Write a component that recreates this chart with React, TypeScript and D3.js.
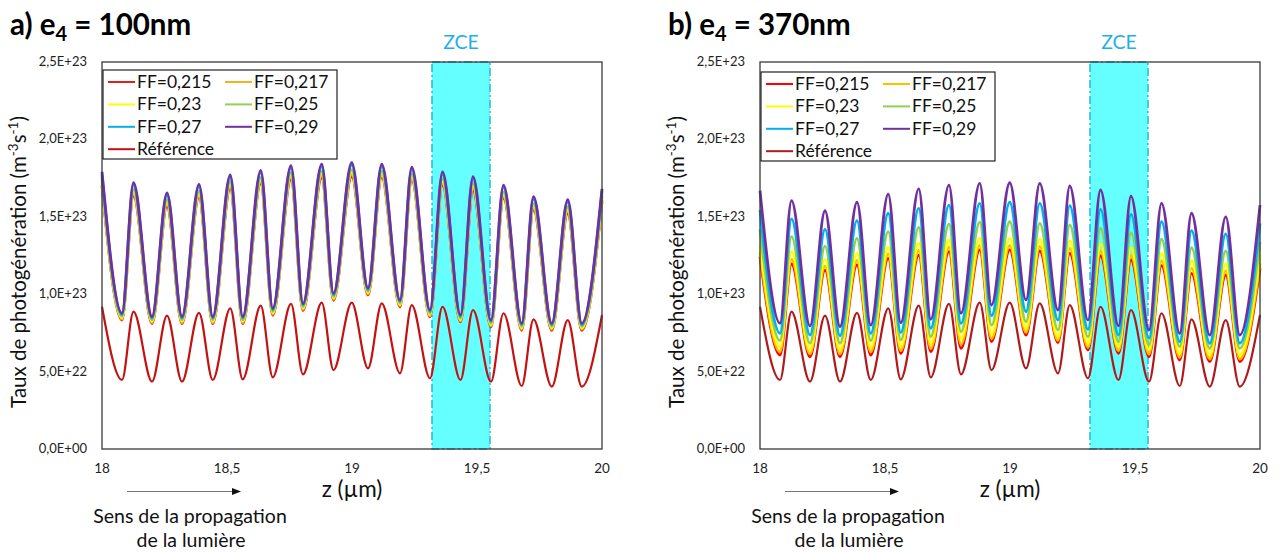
import React from "react";
import * as d3 from "d3";

// positions along z (µm) of the extrema shared by all curves
const Z = [18.0, 18.08, 18.126, 18.2, 18.26, 18.32, 18.388, 18.443, 18.513, 18.563, 18.635, 18.683, 18.756, 18.804, 18.879, 18.926, 18.999, 19.064, 19.119, 19.192, 19.239, 19.312, 19.362, 19.434, 19.484, 19.556, 19.606, 19.679, 19.726, 19.799, 19.863, 19.919, 20.0];

// values in units of 1E+23 m^-3 s^-1
const REF = [0.919, 0.446, 0.887, 0.435, 0.861, 0.435, 0.88, 0.446, 0.909, 0.45, 0.926, 0.463, 0.937, 0.482, 0.945, 0.51, 0.945, 0.521, 0.941, 0.489, 0.93, 0.457, 0.919, 0.446, 0.898, 0.435, 0.877, 0.407, 0.838, 0.403, 0.833, 0.403, 0.866];

// panel a) e4 = 100nm
const A_215 = [1.70, 0.833, 1.635, 0.81, 1.566, 0.81, 1.625, 0.81, 1.68, 0.81, 1.715, 0.864, 1.74, 0.895, 1.75, 0.961, 1.76, 0.995, 1.755, 0.918, 1.735, 0.853, 1.705, 0.821, 1.67, 0.788, 1.62, 0.767, 1.545, 0.767, 1.52, 0.767, 1.60];
const A_217 = [1.715, 0.839, 1.648, 0.817, 1.583, 0.817, 1.638, 0.817, 1.698, 0.817, 1.728, 0.871, 1.758, 0.902, 1.768, 0.968, 1.778, 1.002, 1.768, 0.925, 1.748, 0.86, 1.718, 0.828, 1.688, 0.795, 1.633, 0.774, 1.558, 0.774, 1.538, 0.774, 1.61];
const A_23 = [1.73, 0.847, 1.662, 0.825, 1.597, 0.825, 1.652, 0.825, 1.712, 0.825, 1.742, 0.879, 1.772, 0.91, 1.782, 0.976, 1.792, 1.01, 1.782, 0.933, 1.762, 0.868, 1.732, 0.836, 1.702, 0.803, 1.647, 0.782, 1.572, 0.782, 1.552, 0.782, 1.625];
const A_25 = [1.75, 0.857, 1.675, 0.835, 1.61, 0.835, 1.665, 0.835, 1.725, 0.835, 1.755, 0.889, 1.785, 0.92, 1.795, 0.986, 1.805, 1.02, 1.795, 0.943, 1.775, 0.878, 1.745, 0.846, 1.715, 0.813, 1.66, 0.792, 1.585, 0.792, 1.565, 0.792, 1.64];
const A_27 = [1.77, 0.867, 1.705, 0.845, 1.64, 0.845, 1.695, 0.845, 1.755, 0.845, 1.785, 0.899, 1.815, 0.93, 1.825, 0.996, 1.835, 1.03, 1.825, 0.953, 1.805, 0.888, 1.775, 0.856, 1.745, 0.823, 1.69, 0.802, 1.615, 0.802, 1.595, 0.802, 1.665];
const A_29 = [1.79, 0.877, 1.72, 0.855, 1.655, 0.855, 1.71, 0.855, 1.77, 0.855, 1.80, 0.909, 1.83, 0.94, 1.84, 1.006, 1.85, 1.04, 1.84, 0.963, 1.82, 0.898, 1.79, 0.866, 1.76, 0.833, 1.705, 0.812, 1.63, 0.812, 1.61, 0.812, 1.68];

// panel b) e4 = 370nm
const B_215 = [1.242, 0.607, 1.195, 0.596, 1.156, 0.596, 1.189, 0.607, 1.232, 0.618, 1.253, 0.629, 1.275, 0.65, 1.286, 0.693, 1.286, 0.736, 1.279, 0.687, 1.264, 0.64, 1.247, 0.618, 1.221, 0.596, 1.184, 0.575, 1.135, 0.564, 1.124, 0.564, 1.167];
const B_217 = [1.272, 0.628, 1.227, 0.614, 1.183, 0.614, 1.219, 0.627, 1.26, 0.635, 1.283, 0.65, 1.305, 0.676, 1.316, 0.713, 1.316, 0.753, 1.309, 0.702, 1.296, 0.657, 1.278, 0.635, 1.25, 0.613, 1.216, 0.592, 1.168, 0.581, 1.152, 0.581, 1.2];
const B_23 = [1.318, 0.661, 1.275, 0.64, 1.225, 0.64, 1.264, 0.657, 1.303, 0.661, 1.329, 0.683, 1.35, 0.715, 1.361, 0.743, 1.361, 0.78, 1.355, 0.725, 1.344, 0.683, 1.324, 0.661, 1.297, 0.64, 1.264, 0.618, 1.216, 0.607, 1.195, 0.607, 1.253];
const B_25 = [1.419, 0.70, 1.372, 0.683, 1.311, 0.683, 1.361, 0.70, 1.404, 0.704, 1.432, 0.725, 1.453, 0.758, 1.465, 0.80, 1.468, 0.822, 1.458, 0.769, 1.447, 0.725, 1.426, 0.693, 1.397, 0.672, 1.355, 0.661, 1.30, 0.65, 1.279, 0.65, 1.339];
const B_27 = [1.544, 0.747, 1.486, 0.736, 1.419, 0.732, 1.475, 0.747, 1.523, 0.752, 1.555, 0.78, 1.576, 0.812, 1.587, 0.861, 1.594, 0.887, 1.587, 0.833, 1.572, 0.773, 1.548, 0.736, 1.516, 0.715, 1.468, 0.693, 1.41, 0.683, 1.389, 0.683, 1.458];
const B_29 = [1.669, 0.812, 1.604, 0.795, 1.539, 0.79, 1.594, 0.80, 1.647, 0.816, 1.68, 0.838, 1.705, 0.877, 1.716, 0.93, 1.72, 0.963, 1.716, 0.898, 1.699, 0.833, 1.673, 0.795, 1.634, 0.769, 1.587, 0.747, 1.523, 0.736, 1.50, 0.736, 1.576];

const SERIES_NAMES = ["FF=0,215", "FF=0,217", "FF=0,23", "FF=0,25", "FF=0,27", "FF=0,29", "Référence"];
const Y_TICKS = [0, 0.5, 1.0, 1.5, 2.0, 2.5];
const Y_TICK_LABELS = ["0,0E+00", "5,0E+22", "1,0E+23", "1,5E+23", "2,0E+23", "2,5E+23"];
const X_TICKS = [18, 18.5, 19, 19.5, 20];
const X_TICK_LABELS = ["18", "18,5", "19", "19,5", "20"];
const ZCE = [19.32, 19.552];

const FONT = "Lato, 'Open Sans', sans-serif";

type PanelProps = {
  left: number;
  title: string;
  sub: string;
  rest: string;
  data: number[][];
  colors: string[];
  legendTop: number;
};

function Panel({ left, title, sub, rest, data, colors, legendTop }: PanelProps) {
  const x = d3.scaleLinear().domain([18, 20]).range([left, left + 500]);
  const y = d3.scaleLinear().domain([0, 2.5]).range([449, 62]);
  const line = d3
    .line<number>()
    .x((_, i) => x(Z[i]))
    .y((v) => y(v))
    .curve(d3.curveMonotoneX);
  const top = y(2.5);
  const bottom = y(0);
  const legLeft = left + 1;
  const rowH = 22.4;
  const cx = left + 250;
  return (
    <g>
      {/* title */}
      <text x={left - 92} y={35} fontFamily={FONT} fontWeight="bold" fontSize={29.5} fill="#000">
        {title}
        <tspan fontSize={20} dy={6}>{sub}</tspan>
        <tspan dy={-6}>{rest}</tspan>
      </text>
      {/* ZCE band */}
      <rect
        x={x(ZCE[0])}
        y={top}
        width={x(ZCE[1]) - x(ZCE[0])}
        height={bottom - top}
        fill="#66ffff"
        stroke="#1fb8e6"
        strokeWidth={1.5}
        strokeDasharray="8,3,2,3"
      />
      <text x={(x(ZCE[0]) + x(ZCE[1])) / 2} y={49} textAnchor="middle" fontFamily={FONT} fontSize={19.5} fill="#1fb0e8">
        ZCE
      </text>
      {/* curves */}
      {data.map((vals, k) => (
        <path
          key={k}
          d={line(vals) || ""}
          fill="none"
          stroke={colors[k]}
          strokeWidth={k === 6 ? 2.2 : 2.8}
          strokeLinejoin="round"
        />
      ))}
      {/* frame */}
      <rect x={left} y={top} width={500} height={bottom - top} fill="none" stroke="#3a3a3a" strokeWidth={1.3} />
      {/* y ticks */}
      {Y_TICKS.map((t, i) => (
        <text key={t} x={left - 15} y={y(t) + 4} textAnchor="end" fontFamily={FONT} fontSize={13} fill="#222">
          {Y_TICK_LABELS[i]}
        </text>
      ))}
      {/* x ticks */}
      {X_TICKS.map((t, i) => (
        <text key={t} x={x(t)} y={473} textAnchor="middle" fontFamily={FONT} fontSize={13.5} fill="#222">
          {X_TICK_LABELS[i]}
        </text>
      ))}
      <text x={cx} y={497} textAnchor="middle" fontFamily={FONT} fontSize={22.5} fill="#111">
        z (µm)
      </text>
      {/* y label */}
      <text
        transform={`translate(${left - 76},${262}) rotate(-90)`}
        textAnchor="middle"
        fontFamily={FONT}
        fontSize={20.5}
        fill="#111"
      >
        Taux de photogénération (m
        <tspan fontSize={13.5} dy={-8}>-3</tspan>
        <tspan dy={8}>s</tspan>
        <tspan fontSize={13.5} dy={-8}>-1</tspan>
        <tspan dy={8}>)</tspan>
      </text>
      {/* propagation arrow */}
      <line x1={left + 25} x2={left + 131} y1={491.5} y2={491.5} stroke="#777" strokeWidth={1.2} />
      <path d={`M${left + 139},491.5 L${left + 130},488 L${left + 130},495 Z`} fill="#111" />
      <text x={left + 88} y={523} textAnchor="middle" fontFamily={FONT} fontSize={19.5} fill="#111">
        Sens de la propagation
      </text>
      <text x={left + 89} y={547} textAnchor="middle" fontFamily={FONT} fontSize={19.5} fill="#111">
        de la lumière
      </text>
      {/* legend */}
      <rect x={legLeft} y={legendTop} width={234} height={89} fill="#fff" stroke="#222" strokeWidth={1.2} />
      {SERIES_NAMES.map((name, k) => {
        const col = k === 6 ? 0 : k % 2;
        const row = k === 6 ? 3 : Math.floor(k / 2);
        const lx = legLeft + 5 + col * 117;
        const ly = legendTop + 12 + row * rowH;
        return (
          <g key={name}>
            <line x1={lx} x2={lx + 27} y1={ly} y2={ly} stroke={colors[k]} strokeWidth={2} />
            <text x={lx + 29} y={ly + 6} fontFamily={FONT} fontSize={17.5} fill="#111">
              {name}
            </text>
          </g>
        );
      })}
    </g>
  );
}

export default function App() {
  const colorsA = ["#e41e1e", "#f5b21e", "#ffff00", "#92d050", "#00b0f0", "#7030a0", "#c41212"];
  const colorsB = ["#ff0000", "#ffc000", "#ffff00", "#92d050", "#00b0f0", "#7030a0", "#b01a1a"];
  return (
    <svg
      width={1284}
      height={552}
      style={{ position: "absolute", left: 0, top: 0, background: "#fff" }}
    >
      <rect width={1284} height={552} fill="#fff" />
      <Panel
        left={102}
        title="a) e"
        sub="4"
        rest=" = 100nm"
        data={[A_215, A_217, A_23, A_25, A_27, A_29, REF]}
        colors={colorsA}
        legendTop={70}
      />
      <Panel
        left={760}
        title="b) e"
        sub="4"
        rest=" = 370nm"
        data={[B_215, B_217, B_23, B_25, B_27, B_29, REF]}
        colors={colorsB}
        legendTop={72}
      />
    </svg>
  );
}
